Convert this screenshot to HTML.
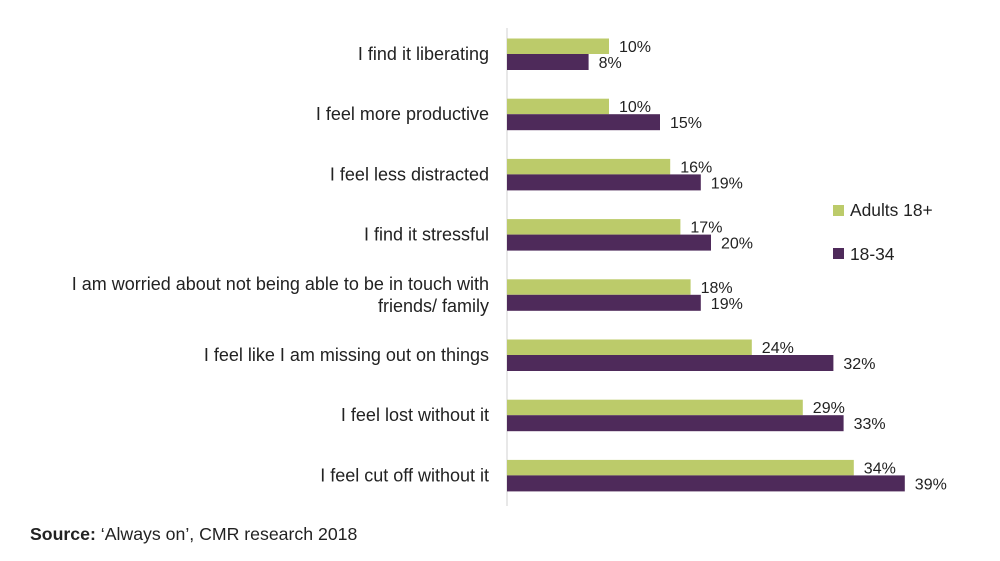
<!DOCTYPE html>
<html><head><meta charset="utf-8"><style>
body{margin:0;background:#fff;font-family:"Liberation Sans",sans-serif;}
svg text{font-family:"Liberation Sans",sans-serif;fill:#222;}
</style></head><body>
<svg id="chart" width="1000" height="556">
<line x1="507" y1="28" x2="507" y2="506" stroke="#d0d0d0" stroke-width="1"/>
<g id="bars"></g>
<g>
<rect x="833" y="205" width="11" height="11" fill="#bccb6a"/>
<text x="850" y="216" font-size="17.4">Adults 18+</text>
<rect x="833" y="248" width="11" height="11" fill="#4e2a5a"/>
<text x="850" y="260" font-size="17.4">18-34</text>
</g>
<text x="30" y="540" font-size="17.7"><tspan font-weight="bold">Source:</tspan> ‘Always on’, CMR research 2018</text>
</svg>
<script>
const categories=[["I find it liberating"],["I feel more productive"],["I feel less distracted"],["I find it stressful"],["I am worried about not being able to be in touch with","friends/ family"],["I feel like I am missing out on things"],["I feel lost without it"],["I feel cut off without it"]];
const adults=[10,10,16,17,18,24,29,34];
const young=[8,15,19,20,19,32,33,39];
const ns="http://www.w3.org/2000/svg";
const g=document.getElementById('bars');
const x=v=>507+v*10.2;
const rowY=i=>54+i*60.2;
function mk(t,a){const e=document.createElementNS(ns,t);for(const k in a)e.setAttribute(k,a[k]);g.appendChild(e);return e;}
categories.forEach((c,i)=>{
 const y=rowY(i);
 const r1=mk('rect',{x:507,y:y-15.5,width:x(adults[i])-507,height:15.5,fill:'#bccb6a'});
 
 
 const r2=mk('rect',{x:507,y:y,width:x(young[i])-507,height:16,fill:'#4e2a5a'});
 
 
 const t1=mk('text',{x:x(adults[i])+10,y:y-2,'font-size':16});t1.textContent=adults[i]+'%';
 
 
 const t2=mk('text',{x:x(young[i])+10,y:y+14,'font-size':16});t2.textContent=young[i]+'%';
 
 
 c.forEach((line,j)=>{
  const t=mk('text',{x:489,y:y+6+(j-(c.length-1)/2)*22,'font-size':18,'text-anchor':'end'});t.textContent=line;
  
  
 });
});
</script>
</body></html>
